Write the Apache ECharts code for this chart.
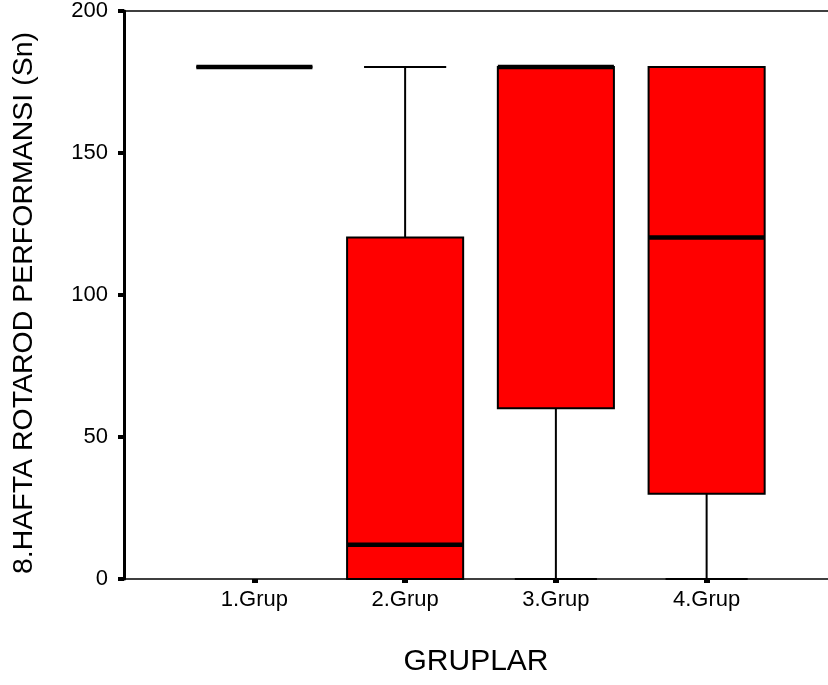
<!DOCTYPE html>
<html>
<head>
<meta charset="utf-8">
<script src="https://cdn.jsdelivr.net/npm/echarts@6/dist/echarts.min.js"></script>
<style>
  html, body { margin: 0; padding: 0; background: #fff; }
  #chart { width: 828px; height: 685px; }
</style>
</head>
<body>
<div id="chart"></div>
<script>
// groups and box statistics (seconds)
const categories = ['1.Grup', '2.Grup', '3.Grup', '4.Grup']
const minVals = [180, 0, 0, 0]
const q1Vals = [180, 0, 60, 30]
const medianVals = [180, 12, 180, 120]
const q3Vals = [180, 120, 180, 180]
const maxVals = [180, 180, 180, 180]
const yTicks = [0, 50, 100, 150, 200]

const font = 'Arial, "Liberation Sans", sans-serif'
const chart = echarts.init(document.getElementById('chart'))

const boxData = categories.map((c, i) => [i, minVals[i], q1Vals[i], medianVals[i], q3Vals[i], maxVals[i]])

const renderBox = (params, api) => {
  const i = api.value(0)
  const band = api.size([1, 0])[0]
  const boxW = band * 0.77
  const capW = band * 0.545
  const pMin = api.coord([i, api.value(1)])
  const pQ1 = api.coord([i, api.value(2)])
  const pMed = api.coord([i, api.value(3)])
  const pQ3 = api.coord([i, api.value(4)])
  const pMax = api.coord([i, api.value(5)])
  const x = pMed[0]
  const line = { stroke: '#000', lineWidth: 2 }
  return {
    type: 'group',
    children: [
      { type: 'line', shape: { x1: x, y1: pQ3[1], x2: x, y2: pMax[1] }, style: line },
      { type: 'line', shape: { x1: x, y1: pMin[1], x2: x, y2: pQ1[1] }, style: line },
      { type: 'line', shape: { x1: x - capW / 2, y1: pMax[1], x2: x + capW / 2, y2: pMax[1] }, style: line },
      { type: 'line', shape: { x1: x - capW / 2, y1: pMin[1], x2: x + capW / 2, y2: pMin[1] }, style: line },
      {
        type: 'rect',
        shape: { x: x - boxW / 2, y: pQ3[1], width: boxW, height: pQ1[1] - pQ3[1] },
        style: { fill: '#ff0000', stroke: '#000', lineWidth: 2 }
      },
      { type: 'line', shape: { x1: x - boxW / 2, y1: pMed[1], x2: x + boxW / 2, y2: pMed[1] }, style: { stroke: '#000', lineWidth: 4.5 } }
    ]
  }
}

chart.setOption({
  animation: false,
  grid: [
    { left: 124, right: 0, top: 10, bottom: 106 },
    { left: 179, right: 46, top: 10, bottom: 106 }
  ],
  xAxis: [
    {
      gridIndex: 0, type: 'value', min: 0, max: 1, position: 'bottom',
      name: 'GRUPLAR', nameLocation: 'middle', nameGap: 68,
      nameTextStyle: { fontFamily: font, fontSize: 30, color: '#000' },
      axisLine: { show: true, lineStyle: { color: '#000', width: 1.5 } },
      axisTick: { show: false }, axisLabel: { show: false }, splitLine: { show: false }
    },
    {
      gridIndex: 0, type: 'value', min: 0, max: 1, position: 'top',
      axisLine: { show: true, lineStyle: { color: '#000', width: 1.5 } },
      axisTick: { show: false }, axisLabel: { show: false }, splitLine: { show: false }
    },
    {
      gridIndex: 1, type: 'category', data: categories,
      axisLine: { show: false },
      axisTick: { show: true, alignWithLabel: true, length: 4, lineStyle: { color: '#000', width: 6 } },
      axisLabel: { fontFamily: font, fontSize: 22, color: '#000', margin: 10 },
      splitLine: { show: false }
    }
  ],
  yAxis: [
    {
      gridIndex: 0, type: 'value', min: yTicks[0], max: yTicks[yTicks.length - 1], interval: 50,
      name: '8.HAFTA ROTAROD PERFORMANSI (Sn)', nameLocation: 'middle', nameGap: 85,
      nameTextStyle: { fontFamily: font, fontSize: 28.5, color: '#000', padding: [0, 16, 0, 0] },
      axisLine: { show: true, lineStyle: { color: '#000', width: 3 } },
      axisTick: { show: true, length: 6, lineStyle: { color: '#000', width: 4 } },
      axisLabel: { fontFamily: font, fontSize: 22, color: '#000', margin: 16 },
      splitLine: { show: false }
    },
    {
      gridIndex: 1, type: 'value', min: yTicks[0], max: yTicks[yTicks.length - 1],
      show: false, splitLine: { show: false }
    }
  ],
  series: [{
    type: 'custom',
    xAxisIndex: 2,
    yAxisIndex: 1,
    renderItem: renderBox,
    encode: { x: 0, y: [1, 2, 3, 4, 5] },
    data: boxData,
    z: 5
  }]
})
</script>
</body>
</html>
